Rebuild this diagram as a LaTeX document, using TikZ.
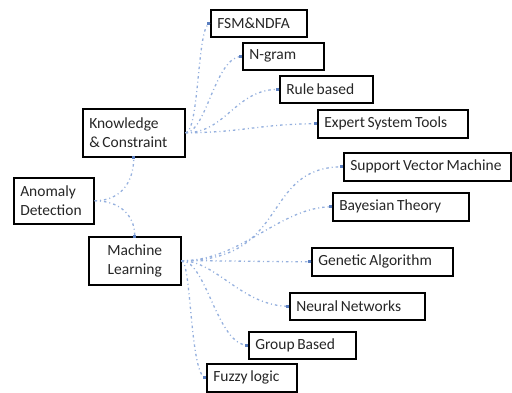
\documentclass[tikz,border=0pt]{standalone}
\usepackage{fontspec}
\setmainfont{Carlito}
\definecolor{linkblue}{HTML}{95B0DE}
\definecolor{tipblue}{HTML}{5B7FC0}
\begin{document}
\begin{tikzpicture}[x=1pt,y=-1pt,
  box/.style={draw=black, line width=1.5pt, fill=white, anchor=north west,
    inner xsep=6.5pt, inner ysep=0pt, align=left, text=black!85,
    font=\fontsize{15.5}{19}\selectfont,
    execute at begin node={\spaceskip=0.17em\relax}},
  link/.style={draw=linkblue, line width=1.3pt,
    dash pattern=on 2.5pt off 3pt on 1pt off 3pt},
  tip/.style={fill=tipblue, draw=none, minimum size=3pt, inner sep=0pt}
]
\useasboundingbox (0,0) rectangle (512,392);

% root and the two branches
\node[box, minimum height=46pt, text width=67pt] (anom) at (13,177) {Anomaly\\Detection};
\node[box, minimum height=48pt, text width=89pt] (know) at (82,108) {Knowledge\\\& Constraint};
\node[box, minimum height=48pt, text width=79pt, align=center] (mach) at (88,236) {Machine\\Learning};

% knowledge based methods
\node[box, minimum height=27pt, text width=83pt]  (fsm)    at (210,9)   {FSM\&NDFA};
\node[box, minimum height=27pt, text width=68pt]  (ngram)  at (242,42)  {N-gram};
\node[box, minimum height=27pt, text width=80pt]  (rule)   at (279,75)  {Rule based};
\node[box, minimum height=28pt, text width=137pt] (expert) at (317,109) {Expert System Tools};

% machine learning methods
\node[box, minimum height=28pt, text width=154pt] (svm)    at (343,152) {\mbox{Support Vector Machine}};
\node[box, minimum height=28pt, text width=123pt] (bayes)  at (332,192) {Bayesian Theory};
\node[box, minimum height=28pt, text width=128pt] (gen)    at (311,247) {Genetic Algorithm};
\node[box, minimum height=27pt, text width=122pt] (neural) at (289,292) {Neural Networks};
\node[box, minimum height=27pt, text width=94pt]  (group)  at (248,331) {Group Based};
\node[box, minimum height=28pt, text width=77pt]  (fuzzy)  at (206,363) {Fuzzy logic};

% root to branches
\draw[link] (anom.east) .. controls +(27,0) and +(0,24) .. (know.south);
\draw[link] (anom.east) .. controls +(25,0) and +(0,-21) .. (mach.north);

% knowledge branch fan
\draw[link] (know.east) .. controls +(14,0) and +(-13,0) .. (fsm.west);
\draw[link] (know.east) .. controls +(21,0) and +(-27,0) .. (ngram.west);
\draw[link] (know.east) .. controls +(41,0) and +(-44,0) .. (rule.west);
\draw[link] (know.east) .. controls +(56,0) and +(-57,0) .. (expert.west);

% machine learning branch fan
\draw[link] (mach.east) .. controls +(110,0) and +(-83,0) .. (svm.west);
\draw[link] (mach.east) .. controls +(60,0) and +(-52,0) .. (bayes.west);
\draw[link] (mach.east) .. controls +(60,0) and +(-49,0) .. (gen.west);
\draw[link] (mach.east) .. controls +(35,0) and +(-47,0) .. (neural.west);
\draw[link] (mach.east) .. controls +(25,0) and +(-31,0) .. (group.west);
\draw[link] (mach.east) .. controls +(10,0) and +(-16,0) .. (fuzzy.west);

% end markers
\foreach \n in {fsm,ngram,rule,expert,svm,bayes,gen,neural,group,fuzzy}
  \node[tip, anchor=east] at (\n.west) {};
\node[tip] at (know.south) {};
\node[tip] at (mach.north) {};
\end{tikzpicture}
\end{document}
